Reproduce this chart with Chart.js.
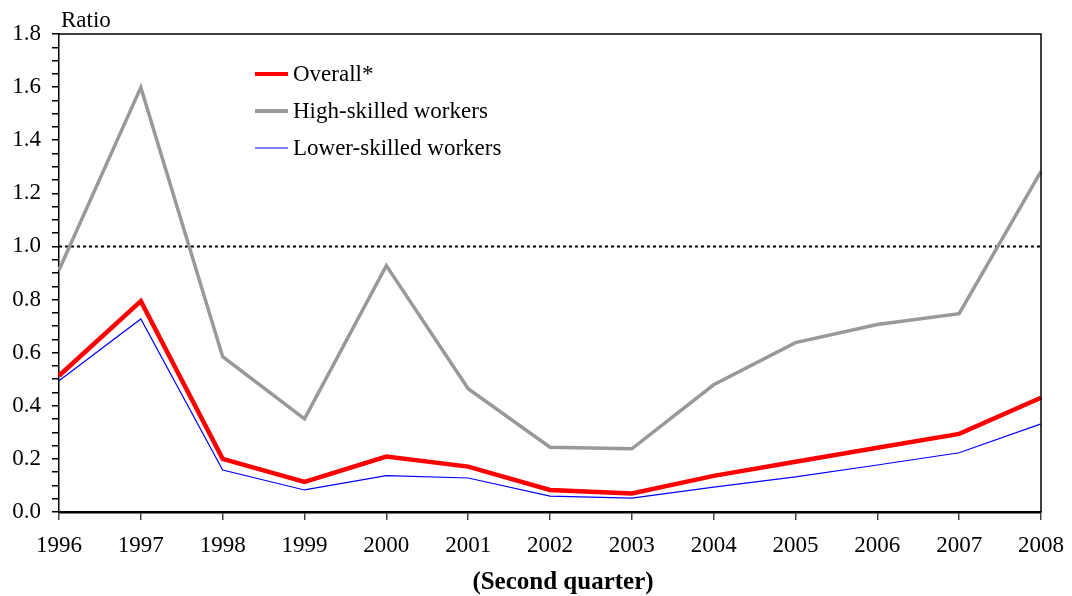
<!DOCTYPE html>
<html>
<head>
<meta charset="utf-8">
<script src="https://cdn.jsdelivr.net/npm/chart.js@4/dist/chart.umd.min.js"></script>
<style>
  html, body { margin: 0; padding: 0; background: #fff; }
  #wrap { width: 1072px; height: 596px; position: relative; }
</style>
</head>
<body>
<div id="wrap"><canvas id="ratioChart"></canvas></div>
<script>
// Chart data
const years = ['1996', '1997', '1998', '1999', '2000', '2001', '2002',
               '2003', '2004', '2005', '2006', '2007', '2008'];
const overall = [0.513, 0.794, 0.200, 0.113, 0.209, 0.171, 0.083,
                 0.070, 0.136, 0.189, 0.242, 0.294, 0.430];
const highSkilled = [0.911, 1.599, 0.585, 0.351, 0.928, 0.464, 0.244,
                     0.238, 0.479, 0.638, 0.706, 0.747, 1.283];
const lowerSkilled = [0.494, 0.727, 0.158, 0.083, 0.137, 0.128, 0.060,
                      0.052, 0.094, 0.132, 0.177, 0.223, 0.332];
const referenceLevel = 1.0;
const yTickLabels = ['0.0', '0.2', '0.4', '0.6', '0.8', '1.0', '1.2', '1.4', '1.6', '1.8'];

const serif = "'Liberation Serif', 'Times New Roman', serif";

// frame round the plot, axis titles and the legend inside the plot
const framePlugin = {
  id: 'frame',
  afterDraw(chart) {
    const ctx = chart.ctx;
    const a = chart.chartArea;
    ctx.save();
    ctx.strokeStyle = '#000';
    ctx.lineWidth = 1.5;
    ctx.beginPath();
    ctx.moveTo(a.left, a.top);
    ctx.lineTo(a.right, a.top);
    ctx.lineTo(a.right, a.bottom);
    ctx.stroke();

    ctx.fillStyle = '#000';
    ctx.font = '23px ' + serif;
    ctx.textBaseline = 'alphabetic';
    ctx.textAlign = 'left';
    ctx.fillText('Ratio', a.left + 2, 27);

    // x axis title, sits a little right of centre in the original
    ctx.font = 'bold 25px ' + serif;
    ctx.textAlign = 'center';
    ctx.fillText('(Second quarter)', 563, 589);

    // legend
    ctx.font = '23px ' + serif;
    ctx.textAlign = 'left';
    ctx.textBaseline = 'middle';
    const rows = chart.data.datasets.filter(d => !d.hideInLegend);
    rows.forEach((ds, i) => {
      const y = 74 + i * 37;
      ctx.strokeStyle = ds.legendColor || ds.borderColor;
      ctx.lineWidth = ds.legendWidth || ds.borderWidth;
      ctx.beginPath();
      ctx.moveTo(255, y);
      ctx.lineTo(288, y);
      ctx.stroke();
      ctx.fillStyle = '#000';
      ctx.fillText(ds.label, 293, y + 1);
    });
    ctx.restore();
  }
};

new Chart(document.getElementById('ratioChart'), {
  type: 'line',
  data: {
    labels: years,
    datasets: [
      {
        label: 'Overall*',
        data: overall,
        borderColor: '#ff0000',
        borderWidth: 4.5,
        legendWidth: 4,
        order: 1
      },
      {
        label: 'High-skilled workers',
        data: highSkilled,
        borderColor: '#999999',
        borderWidth: 3.5,
        legendWidth: 4,
        order: 2
      },
      {
        label: 'Lower-skilled workers',
        data: lowerSkilled,
        borderColor: '#0000ff',
        borderWidth: 1.2,
        legendColor: '#5555ff',
        legendWidth: 1.5,
        order: 0
      },
      {
        label: 'Reference',
        data: years.map(() => referenceLevel),
        borderColor: '#000',
        borderWidth: 2,
        borderDash: [3, 3],
        hideInLegend: true,
        order: 3
      }
    ]
  },
  options: {
    responsive: true,
    maintainAspectRatio: false,
    animation: false,
    devicePixelRatio: 1,
    layout: { padding: { top: 34, right: 31, left: 0, bottom: 0 } },
    elements: {
      point: { radius: 0, hoverRadius: 0 },
      line: { tension: 0, fill: false, borderCapStyle: 'butt', borderJoinStyle: 'miter' }
    },
    plugins: {
      legend: { display: false },
      tooltip: { enabled: false }
    },
    scales: {
      x: {
        type: 'category',
        offset: false,
        grid: {
          drawOnChartArea: false,
          drawTicks: true,
          tickLength: 8,
          color: '#444',
          lineWidth: 1.5
        },
        border: { display: true, color: '#000', width: 2.5 },
        ticks: {
          color: '#000',
          font: { family: serif, size: 23 },
          padding: 12,
          maxRotation: 0,
          autoSkip: false
        },
        afterFit(scale) {
          scale.height = 84;
          scale.paddingLeft = 0;
          scale.paddingRight = 0;
        }
      },
      y: {
        min: 0,
        max: 1.8,
        grid: {
          drawOnChartArea: false,
          drawTicks: true,
          tickLength: 7,
          color: '#000',
          lineWidth: 1.5
        },
        border: { display: true, color: '#000', width: 1.5 },
        ticks: {
          stepSize: 0.05,
          autoSkip: false,
          color: '#000',
          font: { family: serif, size: 23 },
          padding: 11,
          callback(value) {
            const k = Math.round(value * 100);
            if (k % 20 !== 0) return '';
            return yTickLabels[k / 20];
          }
        },
        afterFit(scale) { scale.width = 59; }
      }
    }
  },
  plugins: [framePlugin]
});
</script>
</body>
</html>
